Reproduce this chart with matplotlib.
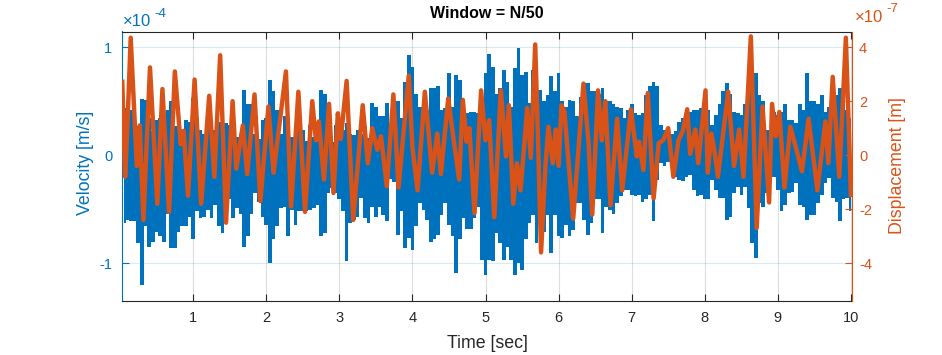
import matplotlib
matplotlib.use('Agg')
import matplotlib.pyplot as plt
import numpy as np

plt.rcParams['font.family'] = ['Liberation Sans', 'DejaVu Sans']

# ---------------- data ----------------
# Velocity envelope (units of 1e-4 m/s), sampled every 0.05 s from 0.05 to 10.0 s
vel_hi = [
    0.44, 0.50, 0.42, 0.25, 0.27, 0.52, 0.51, 0.34, 0.22, 0.33, 0.34, 0.33, 0.42, 0.50, 0.27, 0.28, 0.23, 0.33, 0.31, 0.53,
    0.34, 0.23, 0.20, 0.27, 0.23, 0.23, 0.31, 0.22, 0.30, 0.28, 0.23, 0.17, 0.20, 0.60, 0.47, 0.47, 0.20, 0.15, 0.33, 0.34,
    0.70, 0.59, 0.42, 0.20, 0.36, 0.23, 0.17, 0.28, 0.40, 0.23, 0.13, 0.28, 0.17, 0.13, 0.60, 0.57, 0.15, 0.12, 0.28, 0.27,
    0.23, 0.30, 0.20, 0.19, 0.23, 0.20, 0.27, 0.16, 0.48, 0.45, 0.36, 0.36, 0.48, 0.27, 0.25, 0.50, 0.34, 0.68, 0.93, 0.82,
    0.57, 0.45, 0.40, 0.42, 0.62, 0.62, 0.64, 0.42, 0.44, 0.76, 0.45, 0.74, 0.70, 0.40, 0.39, 0.40, 0.40, 0.39, 0.50, 0.76,
    0.94, 0.82, 0.57, 0.62, 0.79, 0.68, 0.45, 0.81, 0.99, 0.74, 0.77, 0.48, 0.79, 0.48, 0.60, 0.50, 0.56, 0.73, 0.59, 0.76,
    0.50, 0.45, 0.51, 0.50, 0.36, 0.54, 0.67, 0.67, 0.59, 0.59, 0.57, 0.62, 0.50, 0.50, 0.47, 0.45, 0.44, 0.34, 0.42, 0.47,
    0.39, 0.37, 0.39, 0.56, 0.64, 0.68, 0.64, 0.28, 0.23, 0.22, 0.20, 0.22, 0.31, 0.34, 0.40, 0.40, 0.42, 0.42, 0.44, 0.42,
    0.42, 0.28, 0.37, 0.47, 0.59, 0.67, 0.57, 0.40, 0.39, 0.37, 0.47, 0.56, 0.82, 0.76, 0.56, 0.50, 0.23, 0.19, 0.40, 0.37,
    0.40, 0.47, 0.33, 0.33, 0.30, 0.47, 0.42, 0.76, 0.50, 0.50, 0.47, 0.56, 0.40, 0.45, 0.42, 0.56, 0.62, 0.48, 0.42, 0.34,
]
vel_lo = [
    -0.63, -0.60, -0.61, -0.61, -0.81, -1.20, -0.66, -0.85, -0.80, -0.71, -0.75, -0.80, -0.54, -0.86, -0.86, -0.71, -0.66, -0.66, -0.57, -0.78,
    -0.52, -0.58, -0.57, -0.51, -0.58, -0.46, -0.66, -0.72, -0.57, -0.41, -0.58, -0.49, -0.54, -0.85, -0.75, -0.54, -0.35, -0.43, -0.57, -0.65,
    -1.00, -0.78, -0.66, -0.49, -0.48, -0.75, -0.51, -0.65, -0.52, -0.52, -0.52, -0.51, -0.49, -0.46, -0.75, -0.72, -0.35, -0.30, -0.35, -0.41,
    -0.52, -0.98, -0.63, -0.60, -0.57, -0.40, -0.58, -0.63, -0.48, -0.57, -0.48, -0.55, -0.61, -0.22, -0.25, -0.74, -0.52, -0.86, -0.77, -0.88,
    -0.66, -0.44, -0.51, -0.60, -0.80, -0.78, -0.74, -0.55, -0.44, -0.65, -0.75, -1.09, -0.78, -0.58, -0.68, -0.68, -0.58, -0.48, -0.97, -1.11,
    -0.97, -0.98, -0.72, -0.81, -0.97, -0.85, -0.97, -1.11, -1.00, -1.06, -0.78, -0.63, -0.55, -0.81, -0.57, -0.71, -0.55, -0.91, -0.55, -0.75,
    -0.77, -0.65, -0.75, -0.69, -0.44, -0.44, -0.60, -0.74, -0.63, -0.41, -0.41, -0.72, -0.48, -0.51, -0.54, -0.44, -0.38, -0.32, -0.32, -0.37,
    -0.38, -0.37, -0.43, -0.41, -0.37, -0.61, -0.23, -0.07, -0.10, -0.06, -0.10, -0.20, -0.23, -0.24, -0.20, -0.18, -0.32, -0.38, -0.37, -0.41,
    -0.41, -0.23, -0.32, -0.40, -0.40, -0.60, -0.57, -0.35, -0.29, -0.37, -0.29, -0.49, -0.81, -0.95, -0.44, -0.48, -0.35, -0.21, -0.20, -0.32,
    -0.52, -0.46, -0.35, -0.34, -0.26, -0.46, -0.48, -0.60, -0.55, -0.55, -0.44, -0.37, -0.26, -0.21, -0.40, -0.43, -0.61, -0.41, -0.40, -0.52,
]
vel_t = np.linspace(0.05, 10.0, len(vel_hi))

# Displacement turning points (time in s, value in units of 1e-7 m)
disp_t = [
    0.03, 0.07, 0.10, 0.146, 0.23, 0.27, 0.32, 0.41, 0.51, 0.58,
    0.67, 0.75, 0.83, 0.87, 0.93, 1.02, 1.11, 1.22, 1.29, 1.37,
    1.45, 1.54, 1.59, 1.68, 1.74, 1.84, 1.92, 2.03, 2.10, 2.27,
    2.34, 2.44, 2.53, 2.63, 2.68, 2.72, 2.79, 2.86, 2.92, 2.98,
    3.02, 3.10, 3.19, 3.32, 3.39, 3.45, 3.52, 3.57, 3.65, 3.74,
    3.81, 3.95, 4.00, 4.07, 4.17, 4.27, 4.34, 4.39, 4.49, 4.57,
    4.64, 4.69, 4.74, 4.78, 4.85, 4.94, 5.00, 5.05, 5.12, 5.21,
    5.28, 5.32, 5.38, 5.43, 5.48, 5.57, 5.62, 5.68, 5.72, 5.76,
    5.82, 5.86, 5.92, 5.96, 6.00, 6.04, 6.08, 6.20, 6.34, 6.41,
    6.46, 6.54, 6.59, 6.64, 6.71, 6.80, 6.87, 6.99, 7.07, 7.10,
    7.16, 7.22, 7.30, 7.37, 7.43, 7.50, 7.57, 7.64, 7.70, 7.76,
    7.80, 7.87, 7.91, 8.01, 8.04, 8.09, 8.13, 8.18, 8.32, 8.40,
    8.47, 8.53, 8.63, 8.71, 8.79, 8.88, 8.92, 8.97, 9.02, 9.09,
    9.17, 9.23, 9.33, 9.42, 9.54, 9.65, 9.69, 9.75, 9.84, 9.93,
    10.0,
]
disp_val = [
    2.8, -0.8, 1.0, 4.35, -0.4, 1.1, -2.4, 3.25, -1.8, 2.45,
    -2.1, 3.1, 0.4, 0.9, -1.5, 2.8, -1.8, 2.2, -0.8, 3.7,
    -2.5, 2.0, -0.5, 1.1, -0.7, 2.25, -1.7, 1.8, -0.65, 3.1,
    -1.9, 2.35, -2.1, 2.0, 0.55, 1.25, -0.9, 1.9, -1.4, 1.55,
    0.6, 2.75, -2.4, 1.85, -0.3, 1.0, 0.2, 0.7, -1.15, 2.25,
    -1.2, 2.95, 0.3, -1.3, 2.35, -0.65, 0.8, -0.7, 2.1, 0.45,
    -0.9, 2.05, 0.5, 1.0, -2.15, 2.4, 0.55, 1.3, -2.3, 2.4,
    -0.05, 1.85, -1.8, -0.3, -1.3, 1.75, -0.1, 4.1, 0.45, -3.6,
    -0.4, 1.05, -0.3, 0.95, -0.4, 1.85, 1.6, -2.35, 2.65, 0.45,
    -2.2, 2.4, 0.55, 2.0, -1.85, 1.35, -1.3, 1.7, -0.05, 0.5,
    -0.55, 2.3, -1.6, 0.45, 0.55, 1.0, -0.8, 0.55, 0.9, 1.7,
    0.05, 0.95, -0.3, 2.4, -0.65, 0.8, 0.2, -0.8, 2.35, -0.4,
    0.95, -0.8, 4.4, -2.7, 1.8, -1.75, 1.9, 0.7, 1.6, -1.2,
    1.05, 0.45, -0.6, 1.35, -1.3, 1.25, -0.3, 2.9, -0.8, 4.35,
    -1.55,
]

x_ticks = [1, 2, 3, 4, 5, 6, 7, 8, 9, 10]
vel_ticks = [-1, 0, 1]
disp_ticks = [-4, -2, 0, 2, 4]

# ---------------- style ----------------
BLUE = (0.0, 0.447, 0.741)
ORANGE = (0.85, 0.325, 0.098)
DARK = (0.15, 0.15, 0.15)
W, H = 942, 355

fig = plt.figure(figsize=(W / 100, H / 100), dpi=100)
L, R, T, B = 122, 852, 31.5, 301
ax = fig.add_axes([L / W, 1 - B / H, (R - L) / W, (B - T) / H])

ax.fill_between(vel_t, np.array(vel_lo) * 1e-4, np.array(vel_hi) * 1e-4,
                step='mid', color=BLUE, lw=0, zorder=2)
ax.set_xlim(0.027, 10.014)
ax.set_ylim(-1.35e-4, 1.145e-4)

ax2 = ax.twinx()
ax2.plot(disp_t, np.array(disp_val) * 1e-7, color=ORANGE, lw=3.2,
         solid_joinstyle='round', solid_capstyle='butt')
ax2.set_ylim(-5.4e-7, 4.58e-7)
ax2.set_xlim(0.027, 10.014)

ax.set_xticks(x_ticks)
ax.set_xticklabels([str(v) for v in x_ticks])
ax.set_yticks([v * 1e-4 for v in vel_ticks])
ax.set_yticklabels([str(v) for v in vel_ticks])
ax2.set_yticks([v * 1e-7 for v in disp_ticks])
ax2.set_yticklabels([str(v) for v in disp_ticks])

ax.tick_params(axis='x', direction='in', length=5, width=0.8, top=True, colors=DARK,
               labelsize=10.5, pad=7)
ax.tick_params(axis='y', direction='in', length=5, width=0.8, colors=BLUE,
               labelsize=10.5, pad=7, right=False)
ax2.tick_params(axis='y', direction='in', length=5, width=0.8, colors=ORANGE,
                labelsize=10.5, pad=5)

ax.grid(axis='x', color=DARK, alpha=0.15, lw=0.8)
ax.grid(axis='y', color=BLUE, alpha=0.15, lw=0.8)
ax.set_axisbelow(True)

for s in ['top', 'bottom']:
    ax.spines[s].set_color(DARK)
    ax.spines[s].set_linewidth(0.8)
ax.spines['left'].set_color(BLUE)
ax.spines['left'].set_linewidth(0.8)
ax.spines['right'].set_visible(False)
for s in ['top', 'bottom', 'left']:
    ax2.spines[s].set_visible(False)
ax2.spines['right'].set_color(ORANGE)
ax2.spines['right'].set_linewidth(0.8)

# labels
fig.text(487 / W, 1 - 13 / H, 'Window = N/50', fontsize=11.5, fontweight='bold',
         ha='center', va='center', color='black')
fig.text(487 / W, 1 - 343 / H, 'Time [sec]', fontsize=12.8, ha='center', va='center', color=DARK)
fig.text(86 / W, 1 - 163 / H, 'Velocity [m/s]', fontsize=12.8, rotation=90,
         ha='center', va='center', color=BLUE)
fig.text(898 / W, 1 - 166 / H, 'Displacement [m]', fontsize=12.8, rotation=90,
         ha='center', va='center', color=ORANGE)

# exponent labels
fig.text(123 / W, 1 - 26 / H, '×10', fontsize=12, color=BLUE, ha='left', va='baseline')
fig.text(154 / W, 1 - 17 / H, '-4', fontsize=9.5, color=BLUE, ha='left', va='baseline')
fig.text(855 / W, 1 - 21.5 / H, '×10', fontsize=12, color=ORANGE, ha='left', va='baseline')
fig.text(886 / W, 1 - 12.5 / H, '-7', fontsize=9.5, color=ORANGE, ha='left', va='baseline')

fig.savefig('out.png', dpi=100, facecolor='white')
